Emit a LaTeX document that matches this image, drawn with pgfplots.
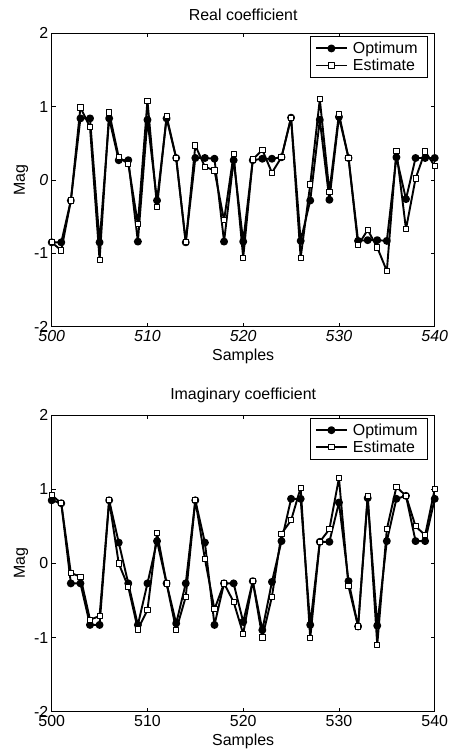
\documentclass[border=0pt]{standalone}
\usepackage{fontspec}
\setmainfont{Liberation Sans}
\usepackage{pgfplots}
\pgfplotsset{compat=1.18}

\pgfplotstableread{
k    opt    est
500 -0.85 -0.85
501 -0.85 -0.96
502 -0.28 -0.28
503  0.84  0.99
504  0.84  0.72
505 -0.85 -1.09
506  0.84  0.92
507  0.27  0.31
508  0.27  0.22
509 -0.84 -0.60
510  0.82  1.08
511 -0.28 -0.37
512  0.84  0.87
513  0.30  0.30
514 -0.85 -0.85
515  0.30  0.47
516  0.30  0.18
517  0.29  0.13
518 -0.84 -0.55
519  0.27  0.35
520 -0.84 -1.06
521  0.27  0.28
522  0.29  0.41
523  0.29  0.10
524  0.31  0.31
525  0.85  0.85
526 -0.83 -1.06
527 -0.28 -0.06
528  0.82  1.10
529 -0.27 -0.16
530  0.86  0.90
531  0.30  0.30
532 -0.83 -0.89
533 -0.82 -0.68
534 -0.82 -0.92
535 -0.83 -1.24
536  0.31  0.40
537 -0.26 -0.67
538  0.30  0.02
539  0.30  0.39
540  0.30  0.19
}\realtab

\pgfplotstableread{
k    opt    est
500  0.85  0.92
501  0.81  0.81
502 -0.27 -0.13
503 -0.27 -0.18
504 -0.83 -0.76
505 -0.83 -0.71
506  0.85  0.85
507  0.28  0.00
508 -0.27 -0.32
509 -0.83 -0.89
510 -0.27 -0.63
511  0.30  0.41
512 -0.27 -0.27
513 -0.81 -0.90
514 -0.27 -0.45
515  0.85  0.85
516  0.28  0.06
517 -0.83 -0.62
518 -0.27 -0.27
519 -0.27 -0.52
520 -0.79 -0.95
521 -0.24 -0.24
522 -0.90 -1.00
523 -0.25 -0.45
524  0.30  0.40
525  0.87  0.58
526  0.87  1.02
527 -0.83 -1.01
528  0.29  0.29
529  0.29  0.46
530  0.82  1.15
531 -0.24 -0.31
532 -0.85 -0.85
533  0.88  0.91
534 -0.84 -1.10
535  0.30  0.46
536  0.87  1.03
537  0.91  0.91
538  0.30  0.50
539  0.30  0.38
540  0.87  1.00
}\imagtab

\pgfplotsset{
  magstyle/.style={
    scale only axis, width=383bp,
    xmin=500, xmax=540, ymin=-2, ymax=2,
    xtick={500,510,520,530,540},
    ytick={-2,-1,0,1,2},
    tick align=inside, major tick length=4bp,
    tick style={black, line width=0.6bp},
    axis line style={line width=0.9bp},
    /pgf/number format/assume math mode=true,
    /pgf/number format/1000 sep={},
    tick label style={font=\fontsize{16}{18}\selectfont},
    label style={font=\fontsize{16}{18}\selectfont},
    title style={font=\fontsize{16}{18}\selectfont, yshift=3bp},
    xlabel={Samples}, ylabel={Mag},
    xlabel style={yshift=-1bp}, ylabel style={yshift=-1bp},
    legend style={at={(0.982,0.99)}, anchor=north east, draw=black,
      font=\fontsize{16}{18}\selectfont, inner xsep=5bp, inner ysep=3.5bp, row sep=0bp,
      legend cell align=left,
      nodes={inner xsep=5bp}},
    legend image code/.code={
      \draw[mark repeat=2,mark phase=2,#1] plot coordinates {(0cm,0cm) (0.55cm,0cm) (1.1cm,0cm)};},
  },
  optstyle/.style={black, line width=1.9bp, line join=round, mark=*, mark size=3bp, mark options={solid, fill=black}},
  eststyle/.style={black, line width=1.9bp, line join=round, mark=square*, mark size=2.6bp, mark options={solid, fill=white, line width=0.9bp}},
}

\begin{document}
\begin{tikzpicture}
\useasboundingbox (0,0) rectangle (453bp,753bp);
\begin{axis}[magstyle,
  at={(51.7bp,426.3bp)}, anchor=south west, height=293.4bp,
  title={Real coefficient},
  xticklabel style={font=\fontsize{16}{18}\selectfont\itshape},
  yticklabels={-2,-1,\textit{0},1,2},
]
  \addplot[optstyle] table[x=k, y=opt] {\realtab};
  \addlegendentry{Optimum}
  \addplot[eststyle] table[x=k, y=est] {\realtab};
  \addlegendentry{Estimate}
\end{axis}
\begin{axis}[magstyle,
  at={(51.7bp,41.3bp)}, anchor=south west, height=296.7bp,
  title={Imaginary coefficient},
]
  \addplot[optstyle] table[x=k, y=opt] {\imagtab};
  \addlegendentry{Optimum}
  \addplot[eststyle] table[x=k, y=est] {\imagtab};
  \addlegendentry{Estimate}
\end{axis}
\end{tikzpicture}
\end{document}
